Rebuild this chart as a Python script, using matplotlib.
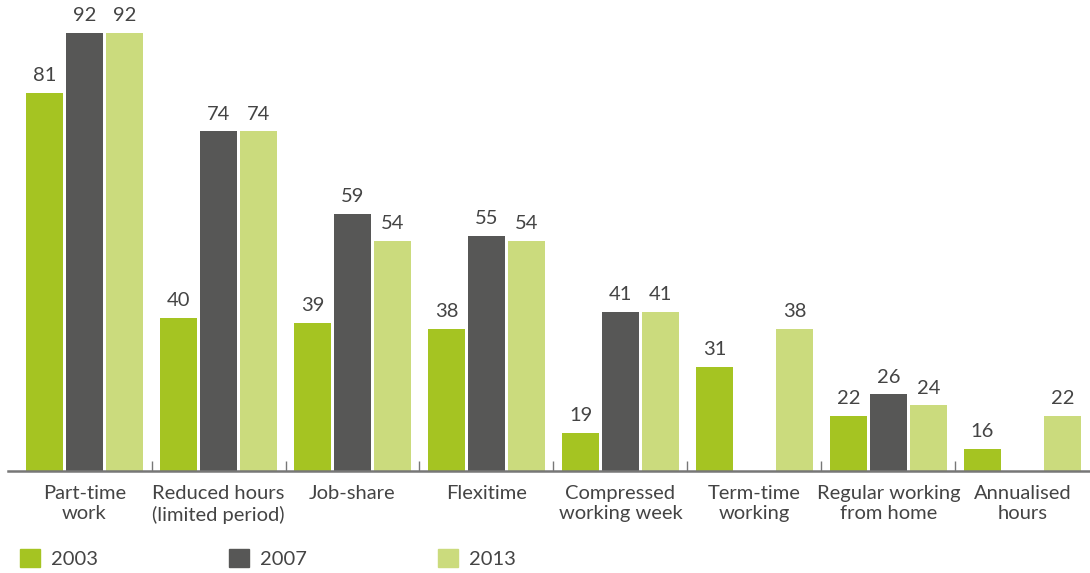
import matplotlib
matplotlib.use("Agg")
import matplotlib.pyplot as plt
import numpy as np
from matplotlib.patches import Patch

categories = ["Part-time\nwork", "Reduced hours\n(limited period)", "Job-share", "Flexitime",
              "Compressed\nworking week", "Term-time\nworking", "Regular working\nfrom home",
              "Annualised\nhours"]
years = ["2003", "2007", "2013"]
v2003 = [81, 40, 39, 38, 19, 31, 22, 16]
v2007 = [92, 74, 59, 55, 41, None, 26, None]
v2013 = [92, 74, 54, 54, 41, 38, 24, 22]

colors = ["#a5c422", "#575756", "#cbdb7d"]
text_c = "#444444"

plt.rcParams["font.family"] = ["Lato", "DejaVu Sans"]

fig = plt.figure(figsize=(10.9, 5.73), dpi=100)
ax = fig.add_axes([8 / 1090, 102 / 573, 1082 / 1090, 471 / 573])

x = np.arange(len(categories))
width, step = 0.276, 0.2985
for k, (vals, col) in enumerate(zip([v2003, v2007, v2013], colors)):
    for i, v in enumerate(vals):
        if v is None:
            continue
        xi = x[i] + (k - 1) * step
        ax.bar(xi, v - 12, bottom=12, width=width, color=col, linewidth=0)
        ax.text(xi, v + 1.6, str(v), ha="center", va="bottom", fontsize=14.5, color=text_c)

ax.set_xlim(-0.571, 7.504)
ax.set_ylim(12, 98)
for s in ["top", "right", "left"]:
    ax.spines[s].set_visible(False)
ax.spines["bottom"].set_color("#777777")
ax.spines["bottom"].set_linewidth(1.8)
ax.set_yticks([])
ax.set_xticks(x[:-1] + 0.5)
ax.set_xticklabels([])
ax.tick_params(axis="x", direction="in", length=7, width=1, color="#777777")
for i, c in enumerate(categories):
    ax.text(x[i], -0.03, c, transform=ax.get_xaxis_transform(), ha="center", va="top",
            fontsize=14.5, color=text_c, linespacing=1.22)

handles = [Patch(color=c, label=y) for c, y in zip(colors, years)]
fig.legend(handles=handles, loc="lower left", bbox_to_anchor=(2 / 1090, -0.023), ncol=3,
           frameon=False, fontsize=14.5, handlelength=1.0, handleheight=1.0,
           handletextpad=0.55, columnspacing=6.5, labelcolor=text_c)

fig.savefig("out.png", dpi=100)
